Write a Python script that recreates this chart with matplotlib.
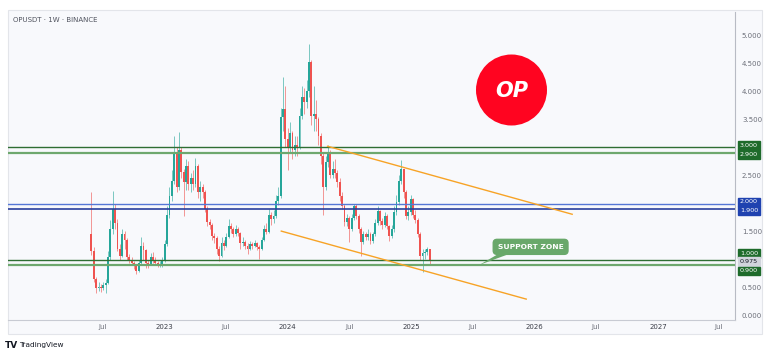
import numpy as np
import pandas as pd
import matplotlib
matplotlib.use("Agg")
import matplotlib.pyplot as plt
import matplotlib.dates as mdates
from matplotlib.patches import Rectangle, Ellipse, Polygon

# weekly OPUSDT candles, first week starting 2022-05-30
first_open = 1.45
closes = [1.15, 0.65, 0.50, 0.52, 0.49, 0.55, 0.58, 1.05, 1.55, 1.90,
          1.65, 1.20, 1.07, 1.46, 1.35, 1.05, 1.00, 0.95, 0.89, 0.80,
          0.95, 1.25, 1.18, 0.95, 0.92, 1.05, 1.00, 0.95, 0.92, 0.93,
          0.98, 1.28, 1.80, 2.14, 2.40, 2.92, 2.30, 2.95, 2.56, 2.38,
          2.67, 2.35, 2.45, 2.35, 2.67, 2.20, 2.30, 2.20, 1.90, 1.67,
          1.62, 1.42, 1.38, 1.20, 1.07, 1.30, 1.25, 1.40, 1.60, 1.55,
          1.45, 1.55, 1.48, 1.30, 1.32, 1.25, 1.19, 1.28, 1.25, 1.30,
          1.22, 1.19, 1.35, 1.55, 1.50, 1.80, 1.72, 1.78, 2.05, 2.14,
          3.54, 3.68, 3.15, 3.00, 3.25, 2.95, 3.05, 3.00, 3.56, 3.90,
          3.80, 4.00, 4.52, 3.56, 3.60, 3.50, 3.20, 2.85, 2.30, 2.74,
          2.92, 2.50, 2.62, 2.55, 2.38, 2.14, 1.96, 1.67, 1.74, 1.55,
          1.75, 1.96, 1.78, 1.55, 1.31, 1.45, 1.40, 1.46, 1.33, 1.45,
          1.65, 1.87, 1.69, 1.62, 1.78, 1.60, 1.42, 1.55, 1.85, 2.03,
          2.40, 2.62, 2.20, 1.78, 1.85, 2.08, 1.80, 1.70, 1.46, 1.07,
          1.12, 1.14, 1.19, 0.975]
highs = [2.20, 1.22, 0.70, 0.60, 0.56, 0.60, 0.66, 1.15, 1.70, 2.22,
         2.00, 1.72, 1.28, 1.55, 1.52, 1.38, 1.10, 1.05, 0.98, 0.92,
         1.00, 1.40, 1.32, 1.20, 1.00, 1.12, 1.14, 1.05, 0.98, 0.98,
         1.05, 1.35, 1.95, 2.30, 2.60, 3.20, 3.00, 3.27, 3.00, 2.62,
         2.80, 2.75, 2.55, 2.60, 2.82, 2.70, 2.40, 2.35, 2.25, 1.95,
         1.72, 1.65, 1.48, 1.42, 1.25, 1.40, 1.35, 1.48, 1.72, 1.65,
         1.58, 1.62, 1.58, 1.50, 1.40, 1.35, 1.30, 1.33, 1.32, 1.35,
         1.32, 1.26, 1.40, 1.62, 1.65, 1.90, 1.85, 1.88, 2.15, 2.30,
         3.70, 4.25, 4.10, 3.35, 3.45, 3.30, 3.20, 3.20, 3.70, 4.10,
         4.05, 4.20, 4.84, 4.55, 4.10, 3.85, 3.55, 3.25, 2.90, 2.85,
         3.05, 2.95, 2.75, 2.80, 2.60, 2.45, 2.20, 2.00, 1.82, 1.78,
         1.82, 2.00, 2.00, 1.82, 1.58, 1.52, 1.50, 1.55, 1.50, 1.50,
         1.72, 1.95, 1.88, 1.75, 1.85, 1.82, 1.62, 1.62, 1.95, 2.15,
         2.50, 2.78, 2.62, 2.25, 1.95, 2.15, 2.10, 1.88, 1.75, 1.50,
         1.20, 1.20, 1.22, 1.20]
lows = [1.08, 0.60, 0.40, 0.45, 0.43, 0.46, 0.40, 0.56, 1.00, 1.45,
        1.55, 1.15, 1.00, 1.05, 1.20, 1.00, 0.95, 0.90, 0.84, 0.74,
        0.78, 0.92, 1.00, 0.85, 0.85, 0.90, 0.95, 0.90, 0.88, 0.87,
        0.88, 0.96, 1.25, 1.75, 2.05, 2.35, 2.20, 2.25, 2.45, 1.78,
        2.25, 2.25, 2.20, 2.25, 2.30, 2.10, 2.05, 2.10, 1.85, 1.60,
        1.55, 1.35, 1.30, 1.10, 0.98, 1.05, 1.18, 1.22, 1.38, 1.48,
        1.40, 1.42, 1.42, 1.20, 1.25, 1.20, 1.10, 1.17, 1.20, 1.22,
        1.18, 1.02, 1.17, 1.33, 1.45, 1.48, 1.62, 1.65, 1.75, 1.98,
        2.10, 3.30, 3.00, 2.60, 2.90, 2.80, 2.85, 2.85, 2.98, 3.50,
        3.60, 3.70, 3.90, 3.40, 3.30, 3.30, 3.05, 2.70, 1.80, 2.25,
        2.65, 2.45, 2.45, 2.45, 2.30, 2.05, 1.90, 1.60, 1.60, 1.31,
        1.52, 1.70, 1.72, 1.48, 1.07, 1.28, 1.35, 1.36, 1.28, 1.30,
        1.42, 1.62, 1.62, 1.55, 1.58, 1.55, 1.33, 1.38, 1.50, 1.80,
        1.98, 2.35, 2.10, 1.72, 1.70, 1.80, 1.75, 1.65, 1.40, 1.00,
        0.78, 1.02, 1.08, 0.93]

# horizontal levels and their label boxes
levels = [3.0, 2.9, 2.0, 1.9, 1.0, 0.9]
level_colors = ["#2f6e33", "#6ea86e", "#5577d6", "#2a3f9c", "#2f6e33", "#6ea86e"]
level_widths = [1.0, 1.6, 1.0, 1.2, 1.0, 1.6]
label_levels = [3.0, 2.9, 2.0, 1.9, 1.0, 0.975, 0.9]
label_texts = ["3.000", "2.900", "2.000", "1.900", "1.000", "0.975", "0.900"]
label_bg = ["#1e6b2b", "#1e6b2b", "#1f42b0", "#1f42b0", "#1e6b2b", "#d1d4dc", "#1e6b2b"]
label_fg = ["white"] * 5 + ["#131722", "white"]
label_shift = [1.2, -1.2, 1.2, -1.2, 4.8, 0, -4.0]

# trend channel
upper_dates = ["2024-04-28", "2026-04-22"]
upper_prices = [3.02, 1.81]
lower_dates = ["2023-12-13", "2025-12-07"]
lower_prices = [1.51, 0.30]

tick_dates = ["2022-07-01", "2023-01-01", "2023-07-01", "2024-01-01", "2024-07-01",
              "2025-01-01", "2025-07-01", "2026-01-01", "2026-07-01", "2027-01-01",
              "2027-07-01"]
tick_labels = ["Jul", "2023", "Jul", "2024", "Jul", "2025", "Jul", "2026", "Jul", "2027", "Jul"]
# 1.000, 2.000 and 3.000 are covered by the level boxes
price_ticks = [0.0, 0.5, 1.5, 2.5, 3.5, 4.0, 4.5, 5.0]

up_color = "#26a69a"
down_color = "#ef5350"
orange = "#f7a326"
support_green = "#69a86a"


def px(x, y):
    return (x / 768, 1 - y / 354)


def main():
    W, H = 768, 354
    fig = plt.figure(figsize=(W / 100, H / 100), dpi=100)
    fig.patch.set_facecolor("white")

    # chart panel background
    fig.add_artist(Rectangle(px(8, 334), 754 / W, 324 / H, transform=fig.transFigure,
                             facecolor="#f8f9fc", edgecolor="#e3e5ea", lw=0.8, zorder=0))

    ax = fig.add_axes([8 / W, 34 / H, 727 / W, 308 / H])
    ax.set_facecolor("none")

    weeks = pd.date_range("2022-05-30", periods=len(closes), freq="7D")
    c = np.array(closes)
    o = np.array([first_open] + closes[:-1])
    hi = np.array(highs)
    lo = np.array(lows)
    up = c >= o
    colors = np.where(up, up_color, down_color)

    ax.vlines(weeks, lo, hi, colors=colors, lw=0.7, alpha=0.6, zorder=2)
    body = np.maximum(np.abs(c - o), 0.012)
    ax.bar(weeks, body, bottom=np.minimum(o, c), width=5.6, color=colors,
           linewidth=0, zorder=3)

    for lev, col, lw in zip(levels, level_colors, level_widths):
        ax.axhline(lev, color=col, lw=lw, zorder=4)

    ax.plot(pd.to_datetime(upper_dates), upper_prices, color=orange, lw=1.0, zorder=4)
    ax.plot(pd.to_datetime(lower_dates), lower_prices, color=orange, lw=1.0, zorder=4)

    ax.set_xlim(pd.Timestamp("2021-09-25"), pd.Timestamp("2027-08-17"))
    ax.set_ylim(-0.072, 5.41)

    ax.yaxis.tick_right()
    ax.set_yticks(price_ticks)
    ax.set_yticklabels([f"{p:.3f}" for p in price_ticks])
    ax.set_xticks(pd.to_datetime(tick_dates))
    ax.set_xticklabels(tick_labels)
    ax.tick_params(axis="both", length=0, labelsize=5, colors="#6b6e78")
    ax.tick_params(axis="y", pad=5)
    ax.tick_params(axis="x", pad=3)
    for lbl in ax.get_xticklabels():
        if lbl.get_text() != "Jul":
            lbl.set_color("#3b3e48")

    for side in ["top", "left"]:
        ax.spines[side].set_visible(False)
    ax.spines["right"].set_color("#b8bbc4")
    ax.spines["bottom"].set_color("#c8cbd3")
    ax.spines["right"].set_linewidth(0.8)
    ax.spines["bottom"].set_linewidth(0.8)

    for lev, txt, bg, fg, sh in zip(label_levels, label_texts, label_bg, label_fg, label_shift):
        ax.annotate(txt, xy=(1, lev), xycoords=("axes fraction", "data"),
                    xytext=(3.5, sh), textcoords="offset points", fontsize=4.6,
                    color=fg, va="center", ha="left", annotation_clip=False,
                    bbox=dict(boxstyle="square,pad=0.3", fc=bg, ec=bg), zorder=6)

    # support zone callout
    tip = (pd.Timestamp("2025-07-22"), 0.91)
    base = [(pd.Timestamp("2025-09-20"), 1.12), (pd.Timestamp("2025-10-25"), 1.12)]
    tri = Polygon([(mdates.date2num(tip[0]), tip[1])] +
                  [(mdates.date2num(d), v) for d, v in base],
                  closed=True, facecolor=support_green, edgecolor="none", zorder=5)
    ax.add_patch(tri)
    ax.text(pd.Timestamp("2025-12-20"), 1.23, "SUPPORT ZONE", fontsize=5.4,
            fontweight="bold", color="white", ha="center", va="center", zorder=6,
            bbox=dict(boxstyle="round,pad=0.6,rounding_size=0.5", fc=support_green,
                      ec=support_green))

    # OP logo
    fig.add_artist(Ellipse(px(511.5, 90), 71 / W, 71 / H, transform=fig.transFigure,
                           facecolor="#ff0420", edgecolor="none", zorder=5))
    fig.text(*px(511.5, 91), "OP", fontsize=15, fontweight="bold", fontstyle="italic",
             color="white", ha="center", va="center", zorder=6)

    fig.text(*px(13, 20), "OPUSDT · 1W · BINANCE", fontsize=5, color="#50535e",
             ha="left", va="center")

    fig.text(*px(5, 345), "TV", fontsize=6.5, fontweight="bold", color="#131722",
             ha="left", va="center")
    fig.text(*px(19, 345), "TradingView", fontsize=5.3, color="#131722",
             ha="left", va="center")

    fig.savefig("out.png", dpi=100)


if __name__ == "__main__":
    main()
